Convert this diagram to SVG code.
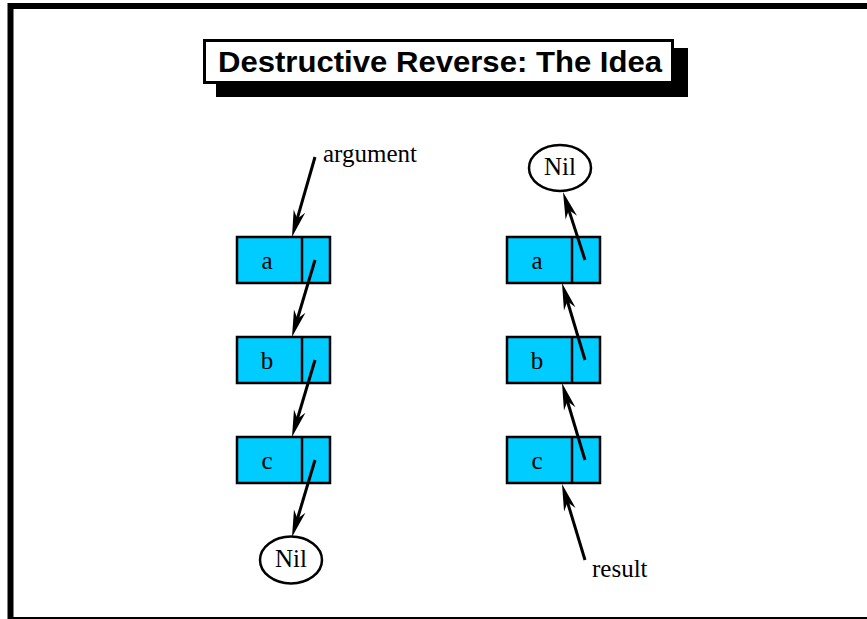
<svg xmlns="http://www.w3.org/2000/svg" width="867" height="619" viewBox="0 0 867 619">
<style>
.cell{fill:#00ccff;stroke:#000;stroke-width:2.5}
.div{stroke:#000;stroke-width:2.5}
.lbl{font-family:"Liberation Serif","Times New Roman",serif;font-size:25px;fill:#000}
.nil{fill:#fff;stroke:#000;stroke-width:2.5}
.arr{stroke:#000;stroke-width:3;fill:none;marker-end:url(#ah)}
.title{font-family:"Liberation Sans",Arial,sans-serif;font-weight:bold;font-size:30px;fill:#000}
</style>
<defs>
<marker id="ah" markerUnits="userSpaceOnUse" orient="auto" refX="-18" refY="0" markerWidth="40" markerHeight="20" style="overflow:visible">
<path d="M0,0 L-27,-6 L-19,0 L-27,6 Z" fill="#000"/>
</marker>
</defs>
<rect x="0" y="0" width="867" height="619" fill="#fff"/>
<rect x="10.5" y="6" width="880" height="614" fill="none" stroke="#000" stroke-width="6"/>
<g id="title">
<rect x="216" y="48" width="472" height="49" fill="#000"/>
<rect x="204.5" y="40.5" width="468" height="42" fill="#fff" stroke="#000" stroke-width="3"/>
<text class="title" x="218" y="72" textLength="444" lengthAdjust="spacingAndGlyphs">Destructive Reverse: The Idea</text>
</g>
<g id="L_a"><rect class="cell" x="237" y="237" width="93" height="46"/><line class="div" x1="302" y1="237" x2="302" y2="283"/><text class="lbl" x="267" y="269" text-anchor="middle">a</text></g>
<g id="L_b"><rect class="cell" x="237" y="337" width="93" height="46"/><line class="div" x1="302" y1="337" x2="302" y2="383"/><text class="lbl" x="267" y="369" text-anchor="middle">b</text></g>
<g id="L_c"><rect class="cell" x="237" y="437" width="93" height="46"/><line class="div" x1="302" y1="437" x2="302" y2="483"/><text class="lbl" x="267" y="469" text-anchor="middle">c</text></g>
<g id="L_nil"><ellipse class="nil" cx="291" cy="560" rx="31" ry="23.5"/><text class="lbl" x="291" y="567" text-anchor="middle">Nil</text></g>
<g id="R_a"><rect class="cell" x="507" y="237" width="93" height="46"/><line class="div" x1="572" y1="237" x2="572" y2="283"/><text class="lbl" x="537" y="269" text-anchor="middle">a</text></g>
<g id="R_b"><rect class="cell" x="507" y="337" width="93" height="46"/><line class="div" x1="572" y1="337" x2="572" y2="383"/><text class="lbl" x="537" y="369" text-anchor="middle">b</text></g>
<g id="R_c"><rect class="cell" x="507" y="437" width="93" height="46"/><line class="div" x1="572" y1="437" x2="572" y2="483"/><text class="lbl" x="537" y="469" text-anchor="middle">c</text></g>
<g id="R_nil"><ellipse class="nil" cx="560" cy="168" rx="31" ry="23"/><text class="lbl" x="560" y="175" text-anchor="middle">Nil</text></g>
<g id="argument"><text class="lbl" x="323" y="162">argument</text></g>
<g id="result"><text class="lbl" x="592" y="577">result</text></g>
<g id="connectors">
<path class="arr" d="M315,157 L296.97,219.7"/>
<path class="arr" d="M315,260 L297.15,319.75"/>
<path class="arr" d="M315,360 L297.15,419.75"/>
<path class="arr" d="M315,460 L297.15,519.75"/>
<path class="arr" d="M585,260 L568.54,209.13"/>
<path class="arr" d="M585,360 L567.15,300.25"/>
<path class="arr" d="M585,460 L567.15,400.25"/>
<path class="arr" d="M585,560 L567.21,501.2"/>
</g>
</svg>
